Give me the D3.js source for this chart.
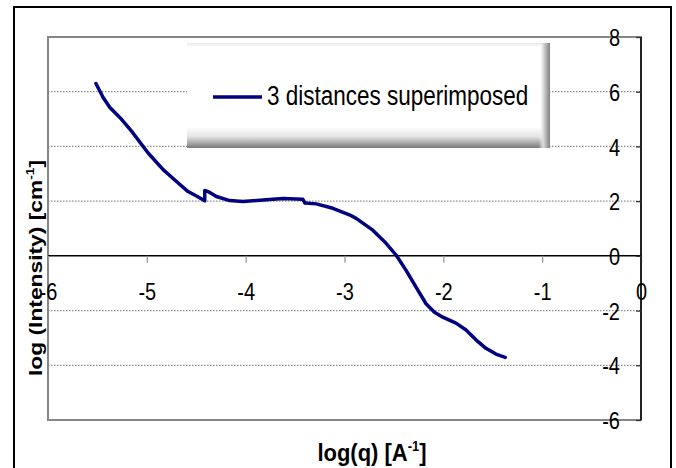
<!DOCTYPE html>
<html>
<head>
<meta charset="utf-8">
<script src="https://cdn.jsdelivr.net/npm/d3@7"></script>
<style>
  html, body { margin: 0; padding: 0; background: #fff; }
  svg { display: block; font-family: "Liberation Sans", Arial, sans-serif; }
</style>
</head>
<body>
<svg id="chart" width="676" height="468"></svg>
<script>
// ---- data ----
const logQ = [-5.515, -5.442, -5.374, -5.256, -5.155, -4.987, -4.835, -4.70, -4.583, -4.498, -4.414, -4.414, -4.38, -4.296, -4.162, -4.027, -3.791, -3.623, -3.421, -3.40, -3.286, -3.118, -2.95, -2.882, -2.714, -2.579, -2.478, -2.377, -2.276, -2.175, -2.09, -2.006, -1.872, -1.77, -1.67, -1.569, -1.468, -1.374];
const logI = [6.30, 5.79, 5.42, 4.99, 4.56, 3.76, 3.15, 2.72, 2.35, 2.19, 2.01, 2.39, 2.35, 2.17, 2.02, 1.99, 2.05, 2.10, 2.07, 1.93, 1.90, 1.74, 1.50, 1.37, 0.94, 0.46, 0.03, -0.53, -1.14, -1.75, -2.06, -2.24, -2.46, -2.71, -3.07, -3.38, -3.59, -3.71];
const xTicks = [-6, -5, -4, -3, -2, -1, 0];
const yTicks = [-6, -4, -2, 0, 2, 4, 6, 8];
const seriesName = "3 distances superimposed";
const xTitle = "log(q) [A";
const yTitle = "log (Intensity) [cm";

const svg = d3.select("#chart");
const L = 48, R = 641, T = 37, B = 420;
const x = d3.scaleLinear().domain([-6, 0]).range([L, R]);
const y = d3.scaleLinear().domain([-6, 8]).range([B, T]);
const SY = 1.2; // vertical stretch of the reference text

// outer border
svg.append("rect").attr("x", 14).attr("y", 7).attr("width", 657).attr("height", 470)
  .attr("fill", "none").attr("stroke", "#000").attr("stroke-width", 2);

// gridlines
svg.append("g").selectAll("line").data(yTicks.filter(v => v !== 0 && v !== -6 && v !== 8))
  .join("line")
  .attr("x1", L).attr("x2", R).attr("y1", d => y(d)).attr("y2", d => y(d))
  .attr("stroke", "#8c8c8c").attr("stroke-width", 1.3).attr("stroke-dasharray", "1.5,1.5");

// plot border (grey)
svg.append("rect").attr("x", L).attr("y", T).attr("width", R - L).attr("height", B - T)
  .attr("fill", "none").attr("stroke", "#868686").attr("stroke-width", 2);

// x axis at y = 0
const xAxis = svg.append("g").attr("transform", `translate(0,${y(0)})`)
  .call(d3.axisBottom(x).tickValues(xTicks).tickSize(7).tickFormat(d3.format("d")));
xAxis.select(".domain").attr("stroke", "#000").attr("stroke-width", 1.5).attr("d", `M${L},0H${R}`);
xAxis.selectAll(".tick line").attr("stroke", "#9a9a9a").attr("stroke-width", 1.3);
xAxis.selectAll(".tick text")
  .attr("y", 0).attr("dy", 0)
  .attr("transform", `translate(0,44) scale(1,${SY})`)
  .attr("font-size", 20).attr("fill", "#000")
  .attr("font-family", "Liberation Sans, Arial, sans-serif")
  .text(d => d === 0 ? "0" : String(d).replace("−", "-"));

// y axis on the right
const yAxis = svg.append("g").attr("transform", `translate(${R},0)`)
  .call(d3.axisLeft(y).tickValues(yTicks).tickSize(5).tickFormat(d3.format("d")));
yAxis.select(".domain").attr("stroke", "#000").attr("stroke-width", 1.5).attr("d", `M0,${T}V${B}`);
yAxis.selectAll(".tick line").attr("stroke", "#333").attr("stroke-width", 1.3);
yAxis.selectAll(".tick text")
  .attr("x", 0).attr("dy", 0)
  .attr("transform", `translate(-21,8.6) scale(1,${SY})`)
  .attr("font-size", 20).attr("fill", "#000")
  .attr("font-family", "Liberation Sans, Arial, sans-serif")
  .text(d => String(d).replace("−", "-"));

// series line
const line = d3.line().x((d, i) => x(logQ[i])).y((d, i) => y(logI[i]));
svg.append("path").datum(logQ).attr("d", line)
  .attr("fill", "none").attr("stroke", "#000080").attr("stroke-width", 3.5)
  .attr("stroke-linejoin", "round").attr("stroke-linecap", "round");

// legend box with bevel shading
const defs = svg.append("defs");
const gb = defs.append("linearGradient").attr("id", "gb").attr("x1", 0).attr("y1", 0).attr("x2", 0).attr("y2", 1);
gb.append("stop").attr("offset", 0).attr("stop-color", "#fff");
gb.append("stop").attr("offset", 0.45).attr("stop-color", "#e4e4e4");
gb.append("stop").attr("offset", 1).attr("stop-color", "#7a7a7a");
const gr = defs.append("linearGradient").attr("id", "gr").attr("x1", 0).attr("y1", 0).attr("x2", 1).attr("y2", 0);
gr.append("stop").attr("offset", 0).attr("stop-color", "#fff").attr("stop-opacity", 0);
gr.append("stop").attr("offset", 0.4).attr("stop-color", "#d8d8d8");
gr.append("stop").attr("offset", 1).attr("stop-color", "#808080");
const gt = defs.append("linearGradient").attr("id", "gt").attr("x1", 0).attr("y1", 0).attr("x2", 0).attr("y2", 1);
gt.append("stop").attr("offset", 0).attr("stop-color", "#e8e8e8");
gt.append("stop").attr("offset", 1).attr("stop-color", "#fff");

const lg = svg.append("g");
lg.append("rect").attr("x", 187).attr("y", 43).attr("width", 363).attr("height", 105).attr("fill", "#fff");
lg.append("rect").attr("x", 187).attr("y", 43).attr("width", 363).attr("height", 4).attr("fill", "url(#gt)");
lg.append("rect").attr("x", 187).attr("y", 127).attr("width", 363).attr("height", 21).attr("fill", "url(#gb)");
lg.append("rect").attr("x", 539).attr("y", 43).attr("width", 11).attr("height", 105).attr("fill", "url(#gr)");
lg.append("line").attr("x1", 213).attr("x2", 262).attr("y1", 97).attr("y2", 97)
  .attr("stroke", "#000080").attr("stroke-width", 3.5);
lg.append("text").attr("transform", `translate(267,104.5) scale(1,${SY})`)
  .attr("font-size", 22.5).attr("fill", "#000").text(seriesName);

// x title
const xt = svg.append("text").attr("transform", `translate(372,461) scale(1,1.1)`)
  .attr("text-anchor", "middle").attr("font-size", 22).attr("font-weight", "bold").attr("fill", "#000");
xt.append("tspan").text(xTitle);
xt.append("tspan").attr("font-size", 13).attr("dy", -9).text("-1");
xt.append("tspan").attr("dy", 9).text("]");

// y title
const yt = svg.append("text").attr("transform", `translate(42,268) scale(1,${SY}) rotate(-90)`)
  .attr("text-anchor", "middle").attr("font-size", 19).attr("font-weight", "bold").attr("fill", "#000");
yt.append("tspan").text(yTitle);
yt.append("tspan").attr("font-size", 11.5).attr("dy", -8).text("-1");
yt.append("tspan").attr("dy", 8).text("]");
</script>
</body>
</html>
